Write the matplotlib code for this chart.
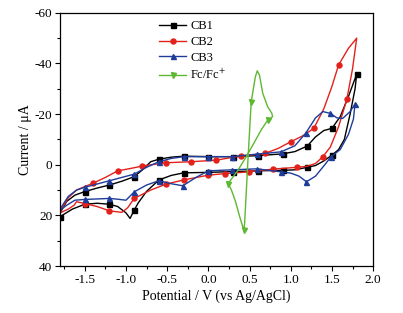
import numpy as np
import matplotlib
matplotlib.use("Agg")
import matplotlib.pyplot as plt
from matplotlib.ticker import MultipleLocator, FormatStrFormatter

plt.rcParams["font.family"] = ["Liberation Serif", "DejaVu Serif"]
plt.rcParams["mathtext.fontset"] = "stix"
plt.rcParams["axes.unicode_minus"] = False

# CB1 loop: forward (upper) branch then return (lower) branch
cb1_x = [-1.80, -1.72, -1.62, -1.50, -1.35, -1.20, -1.05, -0.90, -0.80, -0.70, -0.60, -0.45, -0.30,
         0.00, 0.30, 0.60, 0.90, 1.05, 1.20, 1.30, 1.40, 1.50, 1.60, 1.70, 1.80,
         1.78, 1.72, 1.65, 1.58, 1.50, 1.40, 1.30, 1.20, 1.05, 0.90, 0.60, 0.30, 0.00, -0.30,
         -0.45, -0.60, -0.75, -0.85, -0.90, -0.95, -1.00, -1.10, -1.20, -1.35, -1.50, -1.65, -1.75, -1.80]
cb1_y = [19.0, 14.5, 12.0, 10.6, 9.2, 8.0, 6.5, 4.7, 2.0, -1.2, -2.2, -3.0, -3.4,
         -3.2, -3.2, -3.6, -4.3, -5.2, -7.4, -11.0, -13.5, -14.4, -19.0, -27.0, -35.8,
         -30.0, -20.0, -10.0, -6.0, -3.8, -1.5, 0.3, 1.0, 2.0, 2.2, 2.4, 2.7, 3.0, 3.2,
         4.2, 6.0, 10.5, 15.0, 17.9, 21.2, 19.0, 16.5, 15.6, 15.2, 15.6, 17.5, 19.5, 20.5]
cb1_marks = [3, 5, 7, 10, 12, 13, 14, 15, 16, 18, 21, 24, 29, 32, 34, 35, 36, 37, 38, 40, 43, 47, 49, 52]

cb2_x = [-1.80, -1.70, -1.60, -1.50, -1.40, -1.25, -1.10, -0.95, -0.80, -0.65, -0.51, -0.21, 0.09,
         0.40, 0.69, 0.85, 1.00, 1.15, 1.28, 1.40, 1.50, 1.58, 1.70, 1.80,
         1.75, 1.68, 1.58, 1.48, 1.39, 1.30, 1.20, 1.08, 0.79, 0.49, 0.20, 0.00, -0.30,
         -0.51, -0.70, -0.90, -0.98, -1.05, -1.20, -1.35, -1.50, -1.60, -1.63, -1.70, -1.80]
cb2_y = [18.5, 13.0, 10.0, 8.6, 7.3, 5.0, 2.4, 1.5, 0.5, -0.2, -0.8, -1.2, -1.8,
         -3.5, -4.5, -6.5, -9.1, -11.5, -14.4, -22.0, -31.0, -39.4, -46.0, -50.0,
         -38.0, -25.8, -15.0, -7.0, -3.2, -0.5, 0.6, 1.0, 1.7, 2.8, 3.5, 4.1, 6.0,
         7.6, 10.0, 13.3, 17.0, 18.8, 18.2, 16.5, 15.3, 14.6, 16.0, 17.5, 19.0]
cb2_marks = [4, 6, 8, 10, 11, 12, 13, 14, 16, 18, 21, 25, 28, 31, 32, 33, 34, 35, 36, 37, 39, 42, 44]

cb3_x = [-1.80, -1.70, -1.60, -1.50, -1.35, -1.20, -1.05, -0.90, -0.75, -0.60, -0.45, -0.30,
         0.00, 0.29, 0.59, 0.88, 1.05, 1.18, 1.30, 1.39, 1.48, 1.56, 1.63, 1.72, 1.78,
         1.76, 1.70, 1.60, 1.49, 1.40, 1.30, 1.19, 1.10, 1.00, 0.88, 0.59, 0.29, 0.00, -0.15,
         -0.31, -0.45, -0.60, -0.75, -0.90, -1.00, -1.10, -1.20, -1.50, -1.62, -1.72, -1.80]
cb3_y = [17.5, 12.5, 10.0, 8.9, 7.6, 6.3, 5.0, 3.7, 1.0, -1.2, -2.5, -3.2,
         -3.2, -3.2, -4.2, -5.1, -7.5, -12.4, -18.5, -21.0, -20.3, -18.5, -18.3, -21.0, -24.0,
         -18.0, -12.0, -6.0, -3.2, 0.5, 4.5, 6.7, 4.5, 3.3, 2.8, 1.6, 2.0, 2.4, 5.0,
         8.3, 7.5, 6.3, 8.0, 10.7, 14.0, 13.6, 13.3, 13.7, 14.0, 16.0, 18.0]
cb3_marks = [3, 5, 7, 9, 11, 12, 13, 14, 15, 17, 20, 24, 28, 31, 34, 35, 36, 37, 39, 41, 43, 46, 47]

fc_x = [0.24, 0.28, 0.33, 0.38, 0.43, 0.44, 0.48, 0.52, 0.57, 0.593, 0.62, 0.66, 0.72, 0.77, 0.78,
        0.72, 0.64, 0.54, 0.46, 0.36, 0.24]
fc_y = [7.4, 10.0, 14.6, 20.5, 25.8, 23.1, -1.8, -24.9, -34.7, -37.1, -35.4, -28.2, -22.9, -20.3, -19.0,
        -17.6, -13.7, -7.8, -3.2, 2.1, 7.4]
fc_marks = [0, 4, 7, 15]

series = [
    ("CB1", cb1_x, cb1_y, cb1_marks, "#000000", "s"),
    ("CB2", cb2_x, cb2_y, cb2_marks, "#E3211C", "o"),
    ("CB3", cb3_x, cb3_y, cb3_marks, "#1F3C9A", "^"),
    ("Fc/Fc$^{+}$", fc_x, fc_y, fc_marks, "#5DB832", "v"),
]

fig = plt.figure(figsize=(4.03, 3.13), dpi=100)
ax = fig.add_axes([0.149, 0.150, 0.777, 0.809])

for label, x, y, marks, color, marker in series:
    ax.plot(x, y, color=color, lw=1.0, marker=marker, markersize=3.6,
            markevery=marks, label=label)

ax.set_xlim(-1.8, 2.0)
ax.set_ylim(40, -60)
ax.xaxis.set_major_locator(MultipleLocator(0.5))
ax.xaxis.set_minor_locator(MultipleLocator(0.25))
ax.yaxis.set_major_locator(MultipleLocator(20))
ax.yaxis.set_minor_locator(MultipleLocator(10))
ax.xaxis.set_major_formatter(FormatStrFormatter("%.1f"))
ax.tick_params(which="major", direction="out", length=3.5, width=0.8, labelsize=9.5, pad=2)
ax.tick_params(which="minor", direction="out", length=2, width=0.8)
ax.tick_params(top=False, right=False, which="both")
for s in ax.spines.values():
    s.set_linewidth(0.9)

ax.set_xlabel("Potential / V (vs Ag/AgCl)", fontsize=10, labelpad=3)
ax.set_ylabel("Current / μA", fontsize=10, labelpad=2)

ax.legend(loc="upper left", bbox_to_anchor=(0.30, 0.99), frameon=False, fontsize=9,
          handlelength=2.2, handletextpad=0.3, labelspacing=0.3, borderaxespad=0)

fig.savefig("out.png", dpi=100)
